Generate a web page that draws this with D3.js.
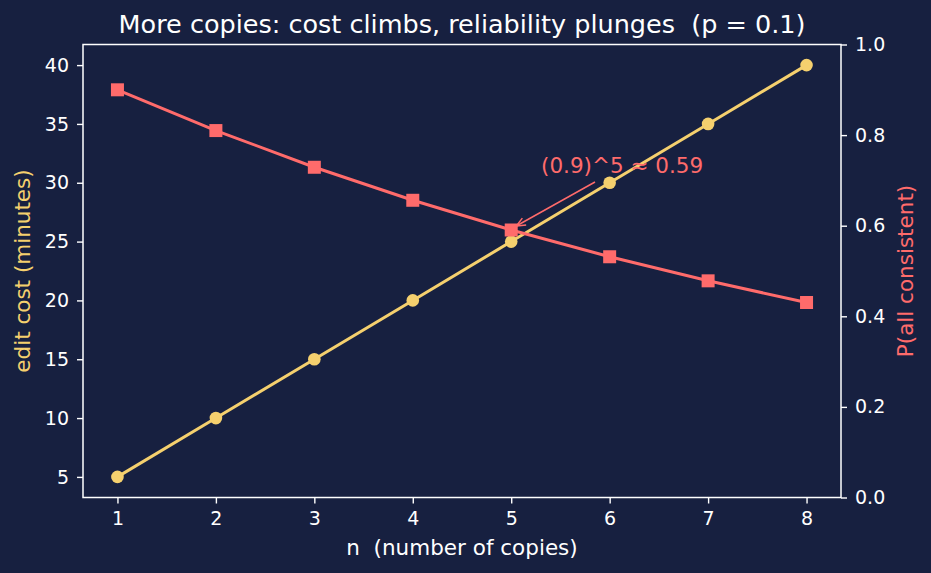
<!DOCTYPE html>
<html><head><meta charset="utf-8">
<script src="https://cdn.jsdelivr.net/npm/d3@7"></script>
<style>
html,body{margin:0;padding:0;background:#172040;}
svg{display:block;font-family:"DejaVu Sans",sans-serif;}
text{white-space:pre;}
</style></head>
<body><svg id="c" width="931" height="573"></svg>
<script>
const copies = [1,2,3,4,5,6,7,8];
const editCost = [5,10,15,20,25,30,35,40];
const pConsistent = [0.9,0.81,0.729,0.6561,0.59049,0.531441,0.4782969,0.43046721];
const leftTicks = [5,10,15,20,25,30,35,40];
const rightTicks = [0,0.2,0.4,0.6,0.8,1.0];
const titleText = "More copies: cost climbs, reliability plunges  (p = 0.1)";
const annText = "(0.9)^5 ≈ 0.59";

const BG="#172040", FG="#ffffff", YEL="#f5d06e", RED="#ff6b6b";
const svg=d3.select("#c");
svg.append("rect").attr("width",931).attr("height",573).attr("fill",BG);
const L=83,R=841,T=44.5,B=497.5;
const x=d3.scaleLinear().domain([0.65,8.35]).range([L,R]);
const yl=d3.scaleLinear().domain([3.25,41.75]).range([B,T]);
const yr=d3.scaleLinear().domain([0,1]).range([B,T]);

function styleAxis(g){
  g.selectAll(".domain").remove();
  g.selectAll(".tick line").attr("stroke",FG).attr("stroke-width",1.4);
  g.selectAll(".tick text").attr("fill",FG).attr("font-size","19px").attr("font-family","DejaVu Sans");
}
svg.append("g").attr("transform",`translate(0,${B})`)
  .call(d3.axisBottom(x).tickValues(copies).tickFormat(d3.format("d")).tickSize(6).tickPadding(8)).call(styleAxis);
svg.append("g").attr("transform",`translate(${L},0)`)
  .call(d3.axisLeft(yl).tickValues(leftTicks).tickFormat(d3.format("d")).tickSize(6).tickPadding(8)).call(styleAxis);
svg.append("g").attr("transform",`translate(${R},0)`)
  .call(d3.axisRight(yr).tickValues(rightTicks).tickFormat(d3.format(".1f")).tickSize(6).tickPadding(8)).call(styleAxis);

svg.append("rect").attr("x",L).attr("y",T).attr("width",R-L).attr("height",B-T)
  .attr("fill","none").attr("stroke",FG).attr("stroke-width",1.5);

// yellow line
svg.append("path").datum(copies.map((c,i)=>[c,editCost[i]]))
  .attr("d",d3.line().x(d=>x(d[0])).y(d=>yl(d[1])))
  .attr("fill","none").attr("stroke",YEL).attr("stroke-width",3);
svg.selectAll(".dot").data(copies.map((c,i)=>[c,editCost[i]])).enter().append("circle")
  .attr("cx",d=>x(d[0])).attr("cy",d=>yl(d[1])).attr("r",6.3).attr("fill",YEL);

// red line
svg.append("path").datum(copies.map((c,i)=>[c,pConsistent[i]]))
  .attr("d",d3.line().x(d=>x(d[0])).y(d=>yr(d[1])))
  .attr("fill","none").attr("stroke",RED).attr("stroke-width",3);
const sq=13;
svg.selectAll(".sq").data(copies.map((c,i)=>[c,pConsistent[i]])).enter().append("rect")
  .attr("x",d=>x(d[0])-sq/2).attr("y",d=>yr(d[1])-sq/2).attr("width",sq).attr("height",sq).attr("fill",RED);

// annotation
const ax=x(copies[4]), ay=yr(pConsistent[4]);
const sx=595, sy=182;
const ex=ax+5, ey=ay-4;
svg.append("line").attr("x1",sx).attr("y1",sy).attr("x2",ex).attr("y2",ey)
  .attr("stroke",RED).attr("stroke-width",1.5);
const ang=Math.atan2(ey-sy,ex-sx);
const hl=10, ha=0.4;
svg.append("path").attr("d",`M${ex-hl*Math.cos(ang-ha)},${ey-hl*Math.sin(ang-ha)}L${ex},${ey}L${ex-hl*Math.cos(ang+ha)},${ey-hl*Math.sin(ang+ha)}`)
  .attr("fill","none").attr("stroke",RED).attr("stroke-width",1.5);
svg.append("text").attr("x",541).attr("y",173).attr("fill",RED).attr("font-size","21.5px").text(annText);

// titles
svg.append("text").attr("x",(L+R)/2).attr("y",33).attr("text-anchor","middle").attr("fill",FG)
  .attr("font-size","25.5px").text(titleText);
svg.append("text").attr("x",(L+R)/2).attr("y",555).attr("text-anchor","middle").attr("fill",FG)
  .attr("font-size","21.5px").text("n  (number of copies)");
svg.append("text").attr("transform",`translate(30,${(T+B)/2}) rotate(-90)`).attr("text-anchor","middle")
  .attr("fill",YEL).attr("font-size","21.5px").text("edit cost (minutes)");
svg.append("text").attr("transform",`translate(913,${(T+B)/2}) rotate(-90)`).attr("text-anchor","middle")
  .attr("fill",RED).attr("font-size","21.5px").text("P(all consistent)");
</script></body></html>
